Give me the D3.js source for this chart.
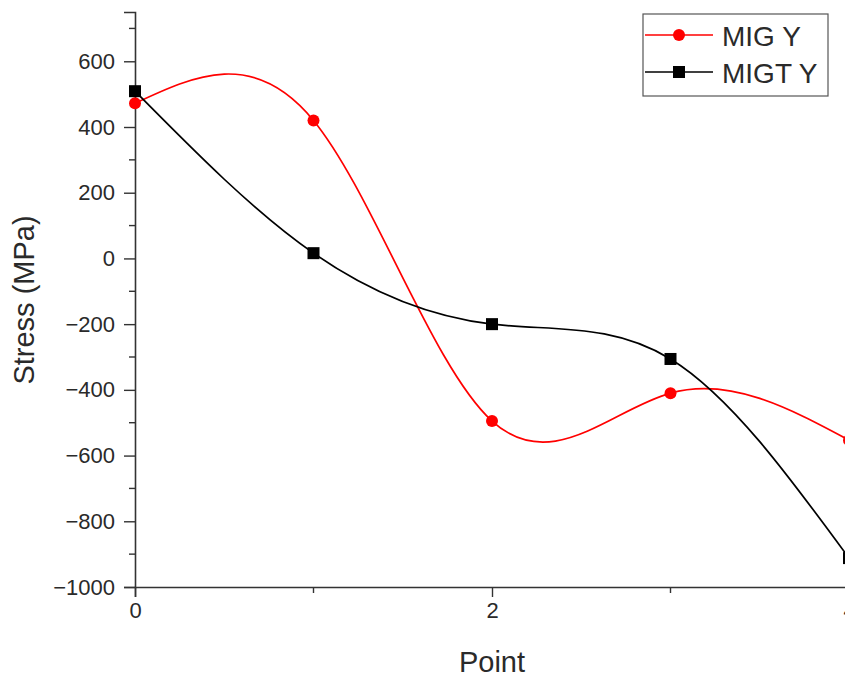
<!DOCTYPE html>
<html>
<head>
<meta charset="utf-8">
<script src="https://cdn.jsdelivr.net/npm/d3@7"></script>
<style>
  html, body { margin: 0; padding: 0; background: #fff; }
  svg { display: block; font-family: Arial, "Liberation Sans", sans-serif; }
</style>
</head>
<body>
<svg id="chart" width="845" height="680"></svg>
<script>
// Measurement points along the weld
const points = [0, 1, 2, 3, 4];
// Residual stress in Y direction (MPa)
const migY = [472, 420, -495, -410, -553];
const migtY = [509, 16, -200, -306, -912];
const seriesNames = ["MIG Y", "MIGT Y"];
const xTicks = [0, 2, 4];
const xMinorTicks = [1, 3];
const yTicks = [-1000, -800, -600, -400, -200, 0, 200, 400, 600];
const yMinorTicks = [-900, -700, -500, -300, -100, 100, 300, 500, 700];

const svg = d3.select("#chart");
const plotLeft = 135, plotTop = 12, plotBottom = 587;

const x = d3.scaleLinear().domain([0, 4]).range([plotLeft, 849]);
const y = d3.scaleLinear().domain([-1000, 750]).range([plotBottom, plotTop]);

const textColor = "#2a2a2a";
const axisColor = "#333";

// Y axis
const yAxis = d3.axisLeft(y).tickValues(yTicks).tickSize(11).tickPadding(9)
  .tickFormat(d => d < 0 ? "\u2212" + Math.abs(d) : d);
const gy = svg.append("g").attr("transform", `translate(${plotLeft},0)`).call(yAxis);
gy.select(".domain").attr("stroke", axisColor).attr("stroke-width", 1.6);
gy.selectAll(".tick line").attr("stroke", axisColor).attr("stroke-width", 1.4);
gy.selectAll(".tick text").attr("font-size", 22).attr("fill", textColor);
svg.append("g").attr("transform", `translate(${plotLeft},0)`)
  .selectAll("line").data(yMinorTicks).join("line")
  .attr("x1", -6).attr("x2", 0)
  .attr("y1", d => y(d)).attr("y2", d => y(d))
  .attr("stroke", axisColor).attr("stroke-width", 1.4);

// X axis
const xAxis = d3.axisBottom(x).tickValues(xTicks).tickSize(10).tickPadding(5)
  .tickFormat(d3.format("d"));
const gx = svg.append("g").attr("transform", `translate(0,${plotBottom})`).call(xAxis);
gx.select(".domain").attr("stroke", axisColor).attr("stroke-width", 1.6);
gx.selectAll(".tick line").attr("stroke", axisColor).attr("stroke-width", 1.4);
gx.selectAll(".tick text").attr("font-size", 22).attr("fill", textColor);
svg.append("g").attr("transform", `translate(0,${plotBottom})`)
  .selectAll("line").data(xMinorTicks).join("line")
  .attr("x1", d => x(d)).attr("x2", d => x(d))
  .attr("y1", 0).attr("y2", 6)
  .attr("stroke", axisColor).attr("stroke-width", 1.4);

// Axis titles
svg.append("text").attr("x", x(2)).attr("y", 672)
  .attr("text-anchor", "middle").attr("font-size", 29).attr("fill", textColor)
  .text("Point");
svg.append("text")
  .attr("transform", `translate(34,300) rotate(-90)`)
  .attr("text-anchor", "middle").attr("font-size", 29).attr("fill", textColor)
  .text("Stress (MPa)");

// Series
const series = [
  { name: seriesNames[0], values: migY, color: "#ff0000", shape: "circle" },
  { name: seriesNames[1], values: migtY, color: "#000000", shape: "square" }
];

const line = d3.line()
  .x(d => x(d[0])).y(d => y(d[1]))
  .curve(d3.curveNatural);

const plot = svg.append("g");

series.forEach(s => {
  const data = points.map((p, i) => [p, s.values[i]]);
  plot.append("path").datum(data)
    .attr("fill", "none").attr("stroke", s.color).attr("stroke-width", 1.7)
    .attr("d", line);
});

series.forEach(s => {
  const data = points.map((p, i) => [p, s.values[i]]);
  if (s.shape === "circle") {
    plot.selectAll(null).data(data).join("circle")
      .attr("cx", d => x(d[0])).attr("cy", d => y(d[1]))
      .attr("r", 6).attr("fill", s.color);
  } else {
    plot.selectAll(null).data(data).join("rect")
      .attr("x", d => x(d[0]) - 6).attr("y", d => y(d[1]) - 6)
      .attr("width", 12).attr("height", 12).attr("fill", s.color);
  }
});

// Legend
const legend = svg.append("g");
legend.append("rect").attr("x", 643).attr("y", 14).attr("width", 185).attr("height", 82)
  .attr("fill", "#fff").attr("stroke", "#555").attr("stroke-width", 1.2);
series.forEach((s, i) => {
  const ly = 35 + i * 37;
  legend.append("line").attr("x1", 645).attr("x2", 713).attr("y1", ly).attr("y2", ly)
    .attr("stroke", s.color).attr("stroke-width", 1.7);
  if (s.shape === "circle") {
    legend.append("circle").attr("cx", 679).attr("cy", ly).attr("r", 6).attr("fill", s.color);
  } else {
    legend.append("rect").attr("x", 673).attr("y", ly - 6).attr("width", 12).attr("height", 12)
      .attr("fill", s.color);
  }
  legend.append("text").attr("x", 722).attr("y", ly + 11)
    .attr("font-size", 28).attr("fill", textColor).text(s.name);
});
</script>
</body>
</html>
